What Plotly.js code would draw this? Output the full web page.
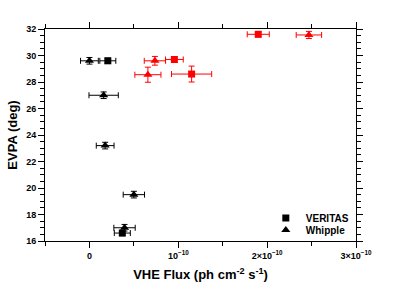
<!DOCTYPE html>
<html><head><meta charset="utf-8">
<script src="https://cdn.plot.ly/plotly-3.0.1.min.js"></script>
<style>html,body{margin:0;padding:0;background:#fff}#c{width:395px;height:286px}</style>
</head><body><div id="c"></div>
<script>
// Black points (low-flux epoch)
const verBlackX = [0.207e-10, 0.37e-10];
const verBlackY = [29.6, 16.6];
const verBlackEx = [0.09e-10, 0.09e-10];
const verBlackEy = [0.2, 0.2];

const whiBlackX = [0.0, 0.16e-10, 0.177e-10, 0.5e-10, 0.395e-10];
const whiBlackY = [29.6, 27.0, 23.2, 19.5, 17.0];
const whiBlackEx = [0.1e-10, 0.165e-10, 0.1e-10, 0.12e-10, 0.12e-10];
const whiBlackEy = [0.25, 0.25, 0.25, 0.25, 0.25];

// Red points (high-flux epoch)
const verRedX = [0.956e-10, 1.15e-10, 1.9e-10];
const verRedY = [29.7, 28.6, 31.6];
const verRedEx = [0.1e-10, 0.226e-10, 0.124e-10];
const verRedEy = [0.2, 0.6, 0.2];

const whiRedX = [0.737e-10, 0.658e-10, 2.47e-10];
const whiRedY = [29.6, 28.55, 31.55];
const whiRedEx = [0.12e-10, 0.147e-10, 0.143e-10];
const whiRedEy = [0.33, 0.57, 0.27];

const xTickVals = [0, 1e-10, 2e-10, 3e-10];
const xTickText = ['0', '10<sup>−10</sup>', '2×10<sup>−10</sup>', '3×10<sup>−10</sup>'];
const legendNames = ['VERITAS', 'Whipple'];

function pts(x, y, ex, ey, color, symbol, size) {
  return {
    type: 'scatter', mode: 'markers', x: x, y: y, showlegend: false,
    marker: {color: color, symbol: symbol, size: size},
    error_x: {type: 'data', array: ex, visible: true, color: color, thickness: 1, width: 3},
    error_y: {type: 'data', array: ey, visible: true, color: color, thickness: 1, width: 3}
  };
}

const data = [
  pts(verBlackX, verBlackY, verBlackEx, verBlackEy, 'black', 'square', 7),
  pts(whiBlackX, whiBlackY, whiBlackEx, whiBlackEy, 'black', 'triangle-up', 8),
  pts(verRedX, verRedY, verRedEx, verRedEy, 'red', 'square', 7),
  pts(whiRedX, whiRedY, whiRedEx, whiRedEy, 'red', 'triangle-up', 8),
  {type: 'scatter', mode: 'markers', x: [null], y: [null], name: legendNames[0], legend: 'legend',
   marker: {color: 'black', symbol: 'square', size: 7}},
  {type: 'scatter', mode: 'markers', x: [null], y: [null], name: legendNames[1], legend: 'legend2',
   marker: {color: 'black', symbol: 'triangle-up', size: 8}}
];

const legFont = {family: 'Liberation Sans, Arial, sans-serif', size: 10, color: '#000', weight: 'bold'};
const tickFont = {family: 'Liberation Sans, Arial, sans-serif', size: 9, color: '#000', weight: 'bold'};
const layout = {
  width: 395, height: 286,
  margin: {l: 45, r: 39, t: 29, b: 45},
  paper_bgcolor: '#fff', plot_bgcolor: '#fff',
  showlegend: true,
  legend: {x: 0.71, y: 0.108, xanchor: 'left', yanchor: 'middle', bgcolor: 'rgba(0,0,0,0)', font: legFont},
  legend2: {x: 0.71, y: 0.052, xanchor: 'left', yanchor: 'middle', bgcolor: 'rgba(0,0,0,0)', font: legFont},
  xaxis: {
    range: [-0.5e-10, 3e-10], showgrid: false, zeroline: false,
    showline: true, linecolor: '#000', linewidth: 1, mirror: 'allticks',
    ticks: 'outside', ticklen: 6, tickcolor: '#000', tickwidth: 1,
    tickmode: 'array', tickvals: xTickVals, ticktext: xTickText,
    minor: {dtick: 0.5e-10, tick0: 0, ticks: 'outside', ticklen: 4, tickcolor: '#000'},
    tickfont: tickFont,
    title: {text: 'VHE Flux (ph cm<sup>-2</sup> s<sup>-1</sup>)', standoff: 10,
      font: {family: 'Liberation Sans, Arial, sans-serif', size: 13, color: '#000', weight: 'bold'}}
  },
  yaxis: {
    range: [16, 32], showgrid: false, zeroline: false,
    showline: true, linecolor: '#000', linewidth: 1, mirror: 'allticks',
    ticks: 'outside', ticklen: 6, tickcolor: '#000', tickwidth: 1,
    tickmode: 'linear', tick0: 16, dtick: 2,
    minor: {dtick: 0.5, ticks: 'outside', ticklen: 4, tickcolor: '#000'},
    tickfont: tickFont,
    title: {text: 'EVPA (deg)', standoff: 5,
      font: {family: 'Liberation Sans, Arial, sans-serif', size: 13, color: '#000', weight: 'bold'}}
  }
};

Plotly.newPlot('c', data, layout, {staticPlot: true, displayModeBar: false});
</script>
</body></html>
